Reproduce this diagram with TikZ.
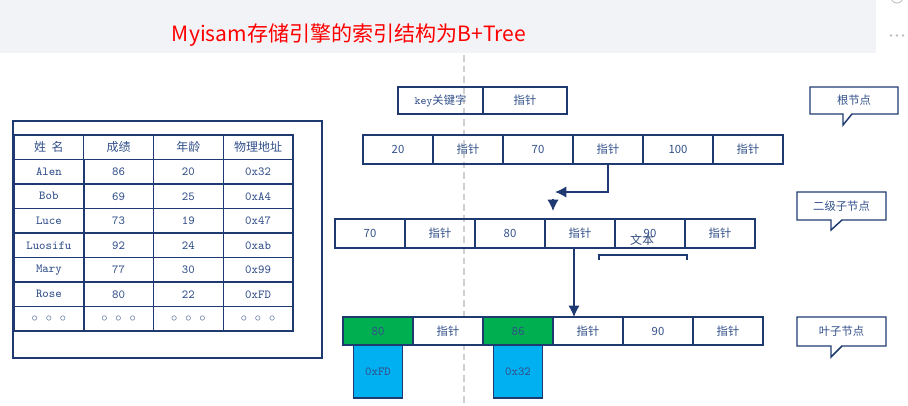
\documentclass[tikz,border=0pt]{standalone}
\usepackage{fontspec}
\setmainfont{Noto Sans CJK SC}
\usepackage{xcolor}
\usepackage{tikz}
\usetikzlibrary{arrows.meta,positioning,calc}

\definecolor{ink}{RGB}{30,58,112}
\definecolor{inktext}{RGB}{50,80,138}
\definecolor{leafgreen}{RGB}{0,176,80}
\definecolor{addrblue}{RGB}{0,176,240}
\definecolor{bandgray}{RGB}{242,243,247}
\definecolor{dashgray}{RGB}{208,208,208}

\newcommand{\threecirc}{$\circ$\hspace{6pt}$\circ$\hspace{6pt}$\circ$}

\begin{document}
\begin{tikzpicture}[x=0.75pt,y=-0.75pt,
  every node/.style={font=\fontsize{8.5}{10}\selectfont,text=inktext},
  cell/.style={draw=ink,line width=1.1pt,minimum width=52.5pt,minimum height=21.5pt,inner sep=0pt,outer sep=0pt},
  tcell/.style={draw=ink,line width=1.1pt,minimum width=52.3pt,minimum height=18.4pt,inner sep=0pt,outer sep=0pt},
  mono/.style={font=\ttfamily\fontsize{9.2}{10}\selectfont},
  addr/.style={draw=ink,line width=1.1pt,fill=addrblue,minimum width=36.8pt,minimum height=39.8pt,inner sep=0pt,outer sep=0pt,mono},
  link/.style={draw=ink,line width=1.1pt,-{Latex[length=8.5pt,width=8.5pt]}}]
  \useasboundingbox (0,0) rectangle (908,405);
  % title band
  \fill[bandgray] (0,0) rectangle (876,53);
  \node[text=red,font=\fontsize{15.8}{18}\selectfont] (title) at (349,35) {Myisam存储引擎的索引结构为B+Tree};
  \draw[gray!45,line width=0.8pt] (897,-3) circle [radius=4.5pt];
  \foreach \dx in {891,897,903}
    \fill[gray!50] (\dx,35.5) circle [radius=1.1pt];
  % middle guide
  \draw[dashgray,line width=1.2pt,dash pattern=on 5pt off 3pt] (464,55) -- (464,405);

  % data table
  \draw[ink,line width=1.1pt] (13,121) rectangle (322,358);
  \foreach \t [count=\c] in {姓\ \ 名,成绩,年龄,物理地址}
    \node[tcell,font=\fontsize{9}{10}\selectfont] (h\c) at ({14+69.75*(\c-0.5)},147.25) {\t};
  \foreach \a/\b/\d/\e [count=\r] in {Alen/86/20/0x32,Bob/69/25/0xA4,Luce/73/19/0x47,Luosifu/92/24/0xab,Mary/77/30/0x99,Rose/80/22/0xFD,\threecirc/\threecirc/\threecirc/\threecirc}{
    \node[tcell,mono] (t\r-1) at (48.9,{135+24.5*(\r+0.5)}) {\a};
    \node[tcell,mono] (t\r-2) at (118.6,{135+24.5*(\r+0.5)}) {\b};
    \node[tcell,mono] (t\r-3) at (188.4,{135+24.5*(\r+0.5)}) {\d};
    \node[tcell,mono] (t\r-4) at (258.1,{135+24.5*(\r+0.5)}) {\e};
  }

  % legend entry
  \node[cell,minimum width=63.8pt,minimum height=20.3pt] (key) at (440.5,100.5) {{\ttfamily key}关键字};
  \node[cell,minimum width=63pt,minimum height=20.3pt,right=0pt of key] (ptr) {指针};

  % root node
  \foreach \t [count=\i] in {20,指针,70,指针,100,指针}
    \node[cell] (a\i) at ({328+70*\i},149.5) {\t};
  % second level
  \foreach \t [count=\i] in {70,指针,80,指针,90,指针}
    \node[cell] (b\i) at ({300+70*\i},233.5) {\t};
  \node[text=ink!90,font=\fontsize{9}{10}\selectfont] (txt) at (642,240) {文本};
  \draw[ink,line width=1.1pt] (599,260) -- (599,255) -- (687,255) -- (687,260);
  % leaves
  \foreach \t/\f [count=\i] in {80/leafgreen,指针/white,86/leafgreen,指针/white,90/white,指针/white}
    \node[cell,minimum height=21pt,fill=\f] (c\i) at ({308+70*\i},331) {\t};
  \node[addr,below=0pt of c1] (p1) {0xFD};
  \node[addr,below=0pt of c3] (p3) {0x32};

  % pointers
  \coordinate (bend) at (555,192);
  \draw[link] (a4.south) |- (bend);
  \coordinate (d1) at (553,199);
  \coordinate (d2) at (553,211);
  \draw[link] (d1) -- (d2);
  \coordinate (m) at ($(b4.south)+(-6,0)$);
  \draw[link] (m) -- (m |- c4.north);

  % callouts
  \draw[ink,line width=1.1pt] (810,87) -- (898,87) -- (898,114) -- (852,114) -- (843,125) -- (843,114) -- (810,114) -- cycle;
  \node (n1) at (854,100.5) {根节点};
  \draw[ink,line width=1.1pt] (797,192) -- (886,192) -- (886,220) -- (842,220) -- (831,230) -- (831,220) -- (797,220) -- cycle;
  \node (n2) at (841.5,206) {二级子节点};
  \draw[ink,line width=1.1pt] (797,317) -- (886,317) -- (886,346) -- (842,346) -- (831,357) -- (831,346) -- (797,346) -- cycle;
  \node (n3) at (841.5,331.5) {叶子节点};
\end{tikzpicture}
\end{document}
